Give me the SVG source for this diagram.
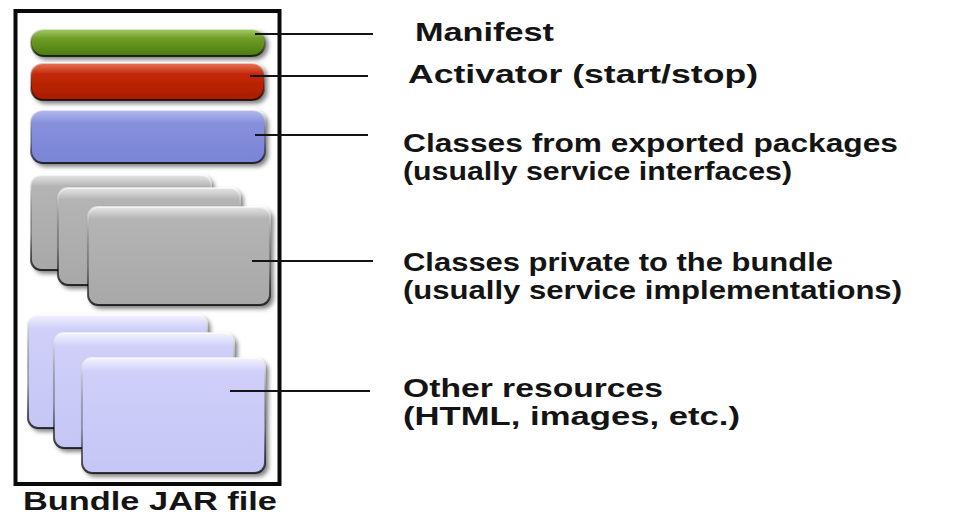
<svg xmlns="http://www.w3.org/2000/svg" width="968" height="525" viewBox="0 0 968 525">
  <style>
    .lbl { font-family: "Liberation Sans", Arial, sans-serif; font-weight: bold; font-size: 25px; fill: #141414; }
    .lead { stroke: #141414; stroke-width: 2; fill: none; }
    .frame { fill: none; stroke: #0a0a0a; stroke-width: 4; }
    .part { stroke: url(#edge); stroke-width: 2; filter: url(#shadow); }
  </style>
  <defs>
    <filter id="shadow" x="-10%" y="-10%" width="130%" height="140%">
      <feDropShadow dx="3" dy="3" stdDeviation="2" flood-color="#000" flood-opacity="0.5"/>
    </filter>
    <linearGradient id="gGreen" x1="0" y1="0" x2="0" y2="1">
      <stop offset="0" stop-color="#a6cc6a"/>
      <stop offset="0.35" stop-color="#6f9e26"/>
      <stop offset="1" stop-color="#4a7a10"/>
    </linearGradient>
    <linearGradient id="gRed" x1="0" y1="0" x2="0" y2="1">
      <stop offset="0" stop-color="#e8765a"/>
      <stop offset="0.3" stop-color="#c42808"/>
      <stop offset="1" stop-color="#a81c00"/>
    </linearGradient>
    <linearGradient id="gBlue" x1="0" y1="0" x2="0" y2="1">
      <stop offset="0" stop-color="#b4baf0"/>
      <stop offset="0.25" stop-color="#8690dc"/>
      <stop offset="1" stop-color="#7a84d6"/>
    </linearGradient>
    <linearGradient id="gGray" x1="0" y1="0" x2="0" y2="1">
      <stop offset="0" stop-color="#e6e6e6"/>
      <stop offset="0.12" stop-color="#b4b4b4"/>
      <stop offset="1" stop-color="#a8a8a8"/>
    </linearGradient>
    <linearGradient id="gLav" x1="0" y1="0" x2="0" y2="1">
      <stop offset="0" stop-color="#f2f2ff"/>
      <stop offset="0.12" stop-color="#cfcff9"/>
      <stop offset="1" stop-color="#c6c6f6"/>
    </linearGradient>
    <linearGradient id="edge" x1="0" y1="0" x2="0" y2="1">
      <stop offset="0" stop-color="#ffffff" stop-opacity="0.6"/>
      <stop offset="0.6" stop-color="#000000" stop-opacity="0.25"/>
      <stop offset="1" stop-color="#000000" stop-opacity="0.75"/>
    </linearGradient>
  </defs>

  <!-- bundle container -->
  <g id="bundle">
    <rect class="frame" x="15.5" y="11" width="264" height="473"/>
    <text class="lbl" x="23" y="510" textLength="254" lengthAdjust="spacingAndGlyphs">Bundle JAR file</text>
  </g>

  <!-- manifest -->
  <g id="manifest">
    <rect class="part" x="31" y="29" width="234" height="27" rx="13" fill="url(#gGreen)"/>
    <text class="lbl" x="415" y="41" textLength="139" lengthAdjust="spacingAndGlyphs">Manifest</text>
  </g>

  <!-- activator -->
  <g id="activator">
    <rect class="part" x="31" y="63" width="233" height="37" rx="12" fill="url(#gRed)"/>
    <text class="lbl" x="408" y="83" textLength="350" lengthAdjust="spacingAndGlyphs">Activator (start/stop)</text>
  </g>

  <!-- exported classes -->
  <g id="exported">
    <rect class="part" x="31" y="110" width="234" height="53" rx="12" fill="url(#gBlue)"/>
    <text class="lbl" x="403" y="152" textLength="495" lengthAdjust="spacingAndGlyphs">Classes from exported packages</text>
    <text class="lbl" x="403" y="180" textLength="389" lengthAdjust="spacingAndGlyphs">(usually service interfaces)</text>
  </g>

  <!-- private classes -->
  <g id="private">
    <rect class="part" x="31" y="175" width="180" height="95" rx="10" fill="url(#gGray)"/>
    <rect class="part" x="58" y="188" width="182" height="97" rx="10" fill="url(#gGray)"/>
    <rect class="part" x="88" y="207" width="182" height="98" rx="10" fill="url(#gGray)"/>
    <text class="lbl" x="403" y="271" textLength="430" lengthAdjust="spacingAndGlyphs">Classes private to the bundle</text>
    <text class="lbl" x="403" y="299" textLength="499" lengthAdjust="spacingAndGlyphs">(usually service implementations)</text>
  </g>

  <!-- other resources -->
  <g id="resources">
    <rect class="part" x="28" y="315" width="179" height="113" rx="10" fill="url(#gLav)"/>
    <rect class="part" x="54" y="333" width="180" height="115" rx="10" fill="url(#gLav)"/>
    <rect class="part" x="82" y="358" width="183" height="115" rx="10" fill="url(#gLav)"/>
    <text class="lbl" x="403" y="397" textLength="260" lengthAdjust="spacingAndGlyphs">Other resources</text>
    <text class="lbl" x="403" y="425" textLength="337" lengthAdjust="spacingAndGlyphs">(HTML, images, etc.)</text>
  </g>

  <!-- leader lines from parts to labels -->
  <g id="connectors">
    <line class="lead" x1="255" y1="34" x2="373" y2="34"/>
    <line class="lead" x1="250" y1="76" x2="368" y2="76"/>
    <line class="lead" x1="255" y1="135" x2="368" y2="135"/>
    <line class="lead" x1="252" y1="261" x2="373" y2="261"/>
    <line class="lead" x1="230" y1="391" x2="370" y2="391"/>
  </g>
</svg>
